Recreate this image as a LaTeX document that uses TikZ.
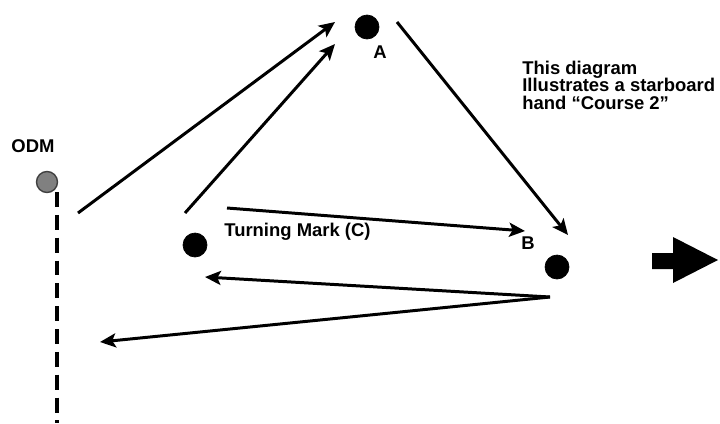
\documentclass[tikz,border=0pt]{standalone}
\usepackage{fontspec}
\setmainfont{Liberation Sans}
\usetikzlibrary{arrows.meta}

\begin{document}
\begin{tikzpicture}[x=0.02cm,y=-0.02cm,
    mark node/.style={circle,draw,fill=black,minimum size=0.48cm,inner sep=0pt},
    odm node/.style={circle,draw=black!75,fill=black!50,line width=0.8pt,minimum size=0.42cm,inner sep=0pt},
    txt/.style={font=\fontsize{10.5}{10}\selectfont\bfseries,inner sep=0pt},
    leg/.style={line width=1.7pt,-{Stealth[length=9pt,width=8pt,inset=2pt]}} ]
    \useasboundingbox (0,0) rectangle (720,423);
    \node at (47,182) [odm node] (O) {};
    \node at (33,146) [txt] (lO) {ODM};
    \node at (367,27) [mark node] (A) {};
    \node at (380,52) [txt] (lA) {A};
    \node at (195,245) [mark node] (C) {};
    \node at (224,232) [txt,anchor=west] (lC) {Turning Mark (C)};
    \node at (522,85) [txt,anchor=west,align=left] (note)
      {This diagram\\Illustrates a starboard\\hand ``Course 2''};
    \node at (557,267) [mark node] (B) {};
    \node at (528,243) [txt] (lB) {B};
    % start line
    \coordinate (l1) at (57,192);
    \coordinate (l2) at (57,423);
    \draw [line width=2.2pt,dash pattern=on 8.5pt off 4.5pt] (l1) -- (l2);
    % legs
    \coordinate (s1) at (78,213);  \coordinate (e1) at (335,22);
    \coordinate (s2) at (185,213); \coordinate (e2) at (335,44);
    \coordinate (s3) at (227,208); \coordinate (e3) at (525,231);
    \coordinate (s4) at (397,22);  \coordinate (e4) at (568,235);
    \coordinate (s5) at (550,297); \coordinate (e5) at (205,277);
    \coordinate (e6) at (100,342);
    \draw [leg] (s1) -- (e1);
    \draw [leg] (s2) -- (e2);
    \draw [leg] (s3) -- (e3);
    \draw [leg] (s4) -- (e4);
    \draw [leg] (s5) -- (e5);
    \draw [leg] (s5) -- (e6);
    % wind
    \fill (652,253) -- (673,253) -- (673,237) -- (718,260) -- (673,283) -- (673,269) -- (652,269) -- cycle;
\end{tikzpicture}
\end{document}
